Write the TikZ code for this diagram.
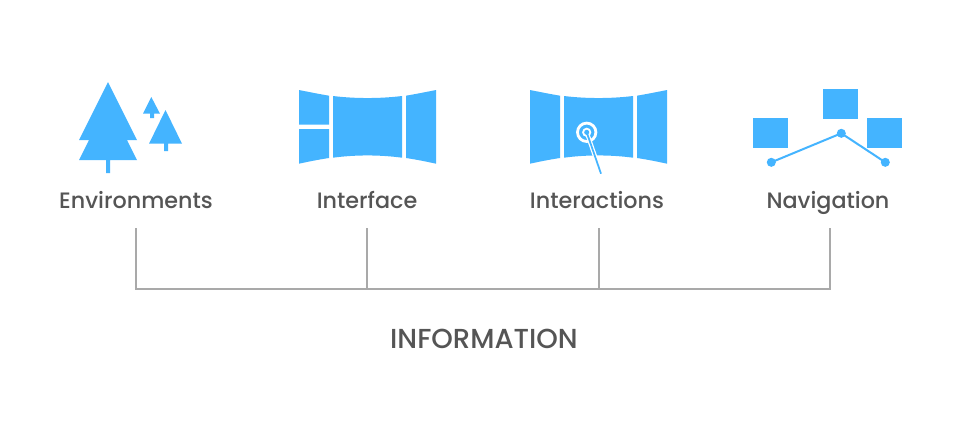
\documentclass[tikz,border=0pt]{standalone}
\usepackage{fontspec}
\setmainfont{Poppins Medium}
\definecolor{iconblue}{HTML}{44B4FF}
\definecolor{rulegrey}{HTML}{A9A9A9}
\definecolor{labelgrey}{HTML}{555555}
\tikzset{
  x=0.75pt,y=-0.75pt,
  icon/.style={fill=iconblue,draw=none},
  label/.style={text=labelgrey,font=\fontsize{16.7pt}{20pt}\selectfont,inner sep=0pt,anchor=base},
  biglabel/.style={label,font=\fontsize{20.6pt}{24pt}\selectfont},
  bracket/.style={draw=rulegrey,line width=1.5pt},
  link/.style={draw=iconblue,line width=1.5pt},
  dot/.style={circle,fill=iconblue,draw=none,minimum size=6.8pt,inner sep=0pt},
}
\begin{document}
\begin{tikzpicture}
\useasboundingbox (0,0) rectangle (960,440);
\fill[white] (0,0) rectangle (960,440);
% trees
\fill[icon] (108,82) -- (137,140) -- (127,140) -- (137,160) -- (110,160) -- (110,173) -- (106,173) -- (106,160) -- (79,160) -- (89,140) -- (79,140) -- cycle;
\fill[icon] (151.3,97) -- (160,113.7) -- (154,113.7) -- (154,118) -- (150,118) -- (150,113.7) -- (143,113.7) -- cycle;
\fill[icon] (165.5,110) -- (182,143.7) -- (168,143.7) -- (168,151) -- (164,151) -- (164,143.7) -- (149,143.7) -- cycle;
% interface
\fill[icon] (299,90) .. controls (309,92) and (319,94) .. (329,95.7) -- (329,124.7) -- (299,124.7) -- cycle;
\fill[icon] (299,129) -- (329,129) -- (329,158) .. controls (319,159.5) and (309,161.5) .. (299,163.7) -- cycle;
\fill[icon] (333,96) .. controls (355,98.7) and (380,98.7) .. (402,96) -- (402,157.7) .. controls (380,154.7) and (355,154.7) .. (333,157.7) -- cycle;
\fill[icon] (406,95.7) .. controls (416,94) and (426,92) .. (436,90) -- (436,163.7) .. controls (426,161.5) and (416,159.5) .. (406,158) -- cycle;
% interactions
\fill[icon] (530,90) .. controls (540,92) and (550,94) .. (560,95.7) -- (560,158) .. controls (550,159.5) and (540,161.5) .. (530,163.7) -- cycle;
\fill[icon] (564,96) .. controls (586,98.7) and (611,98.7) .. (633,96) -- (633,157.7) .. controls (611,154.7) and (586,154.7) .. (564,157.7) -- cycle;
\fill[icon] (637,95.7) .. controls (647,94) and (657,92) .. (667,90) -- (667,163.7) .. controls (657,161.5) and (647,159.5) .. (637,158) -- cycle;
\coordinate (tapc) at (586.7,132.3);
\coordinate (tapend) at (601,173.7);
\draw[white,line width=3.2pt] (tapc) -- (tapend);
\draw[white,line width=2.1pt] (tapc) circle (9.2);
\fill[white] (tapc) circle (4.6);
\draw[link,line width=1.3pt] (tapc) -- (tapend);
\node[dot,minimum size=3.8pt] at (tapc) {};
% navigation
\fill[icon] (823,89) rectangle (858,119);
\fill[icon] (753,118) rectangle (788,148);
\fill[icon] (867,118) rectangle (902,148);
\node[dot] (na) at (771.3,162.3) {};
\node[dot] (nb) at (841.3,133.3) {};
\node[dot] (nc) at (885.3,162.3) {};
\draw[link] (na.center) -- (nb.center) -- (nc.center);
% labels
\node[label] (l1) at (136,208) {Environments};
\node[label] (l2) at (367,208) {Interface};
\node[label] (l3) at (597,208) {Interactions};
\node[label] (l4) at (828,208) {Navigation};
\node[biglabel] (info) at (484,348) {INFORMATION};
% bracket
\coordinate (b1) at (135.5,228);
\coordinate (b2) at (367,228);
\coordinate (b3) at (599,228);
\coordinate (b4) at (830,228);
\coordinate (c1) at (135.5,289);
\coordinate (c2) at (367,289);
\coordinate (c3) at (599,289);
\coordinate (c4) at (830,289);
\draw[bracket] (b1) -- (c1) -- (c4) -- (b4);
\draw[bracket] (b2) -- (c2);
\draw[bracket] (b3) -- (c3);
\end{tikzpicture}
\end{document}
